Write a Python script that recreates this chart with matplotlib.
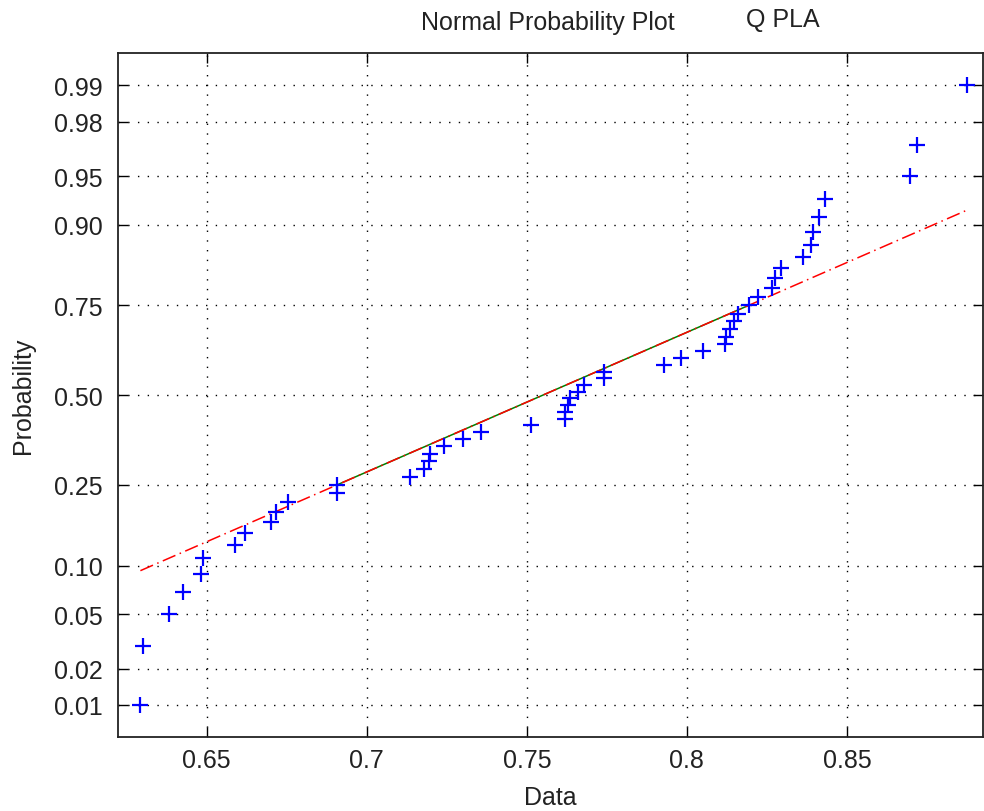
import numpy as np
import matplotlib
matplotlib.use("Agg")
import matplotlib.pyplot as plt
from statistics import NormalDist

# ---- data (sorted sample values) ----
data = [0.6293, 0.6300, 0.6381, 0.6425, 0.6481, 0.6489, 0.6588, 0.6620, 0.6700, 0.6717,
        0.6753, 0.6907, 0.6907, 0.7135, 0.7180, 0.7195, 0.7198, 0.7240, 0.7300, 0.7357,
        0.7513, 0.7620, 0.7620, 0.7627, 0.7635, 0.7660, 0.7680, 0.7740, 0.7740, 0.7927,
        0.7982, 0.8049, 0.8118, 0.8123, 0.8135, 0.8146, 0.8161, 0.8193, 0.8222, 0.8266,
        0.8276, 0.8295, 0.8362, 0.8388, 0.8394, 0.8414, 0.8431, 0.8698, 0.8719, 0.8875]
prob_ticks = [0.01, 0.02, 0.05, 0.10, 0.25, 0.50, 0.75, 0.90, 0.95, 0.98, 0.99]
prob_labels = ["0.01", "0.02", "0.05", "0.10", "0.25", "0.50", "0.75", "0.90", "0.95", "0.98", "0.99"]
x_ticks = [0.65, 0.70, 0.75, 0.80, 0.85]
x_labels = ["0.65", "0.7", "0.75", "0.8", "0.85"]

nd = NormalDist()

def _inv1(p):
    if not np.isfinite(p):
        return np.nan
    return nd.inv_cdf(min(max(p, 1e-12), 1 - 1e-12))

def _cdf1(z):
    if not np.isfinite(z):
        return np.nan if np.isnan(z) else (1.0 if z > 0 else 0.0)
    return nd.cdf(z)

_inv = np.vectorize(_inv1, otypes=[float])
_cdf = np.vectorize(_cdf1, otypes=[float])

def fwd(p):
    return _inv(np.asarray(p, dtype=float))

def inv(z):
    return _cdf(np.asarray(z, dtype=float))

x = np.sort(np.array(data))
n = len(x)
pp = (np.arange(1, n + 1) - 0.5) / n

# quartile reference line (MATLAB normplot style)
q1 = np.percentile(x, 25, method="hazen")
q3 = np.percentile(x, 75, method="hazen")
z1, z3 = nd.inv_cdf(0.25), nd.inv_cdf(0.75)
slope = (z3 - z1) / (q3 - q1)
line_z = lambda xx: z1 + (np.asarray(xx) - q1) * slope

plt.rcParams["font.family"] = ["Liberation Sans", "DejaVu Sans"]
fig = plt.figure(figsize=(9.84, 8.12), dpi=100)
ax = fig.add_axes([0.1199, 0.0908, 0.8795, 0.8427])
ax.set_yscale("function", functions=(fwd, inv))

# grid
for xt in x_ticks:
    ax.axvline(xt, color="black", lw=1.0, ls=(0, (1, 6)), zorder=1)
for pt in prob_ticks:
    ax.axhline(pt, color="black", lw=1.0, ls=(0, (1, 6)), zorder=1)

# reference lines
xa = np.array([x.min(), x.max()])
ax.plot(xa, inv(line_z(xa)), color="red", lw=1.1, ls=(0, (9, 3, 1, 3)), zorder=3)
xq = np.array([q1, q3])
ax.plot(xq, inv(line_z(xq)), color=(0, 0.5, 0), lw=1.1, zorder=2)

# data points
ax.plot(x, pp, ls="none", marker="+", ms=12, mew=1.6, color="blue", zorder=4)

ax.set_xlim(0.6223, 0.8926)
zl = 2.57
ax.set_ylim(nd.cdf(-zl), nd.cdf(zl))
ax.set_xticks(x_ticks)
ax.set_xticklabels(x_labels, fontsize=18, color="#222222")
ax.set_yticks(prob_ticks)
ax.set_yticklabels(prob_labels, fontsize=18, color="#222222")
ax.minorticks_off()
ax.tick_params(direction="in", length=7.2, width=1.0, top=True, right=True)
ax.tick_params(axis="y", pad=11)
ax.tick_params(axis="x", pad=8)
for s in ax.spines.values():
    s.set_linewidth(1.3)
    s.set_color("#222222")

ax.set_xlabel("Data", fontsize=18, labelpad=9, color="#222222")
ax.set_ylabel("Probability", fontsize=18, labelpad=14, color="#222222")
fig.text(0.557, 0.972, "Normal Probability Plot", fontsize=18, ha="center", va="center", color="#222222")
fig.text(0.796, 0.975, "Q PLA", fontsize=18, ha="center", va="center", color="#222222")

fig.savefig("out.png", dpi=100, facecolor="white")
